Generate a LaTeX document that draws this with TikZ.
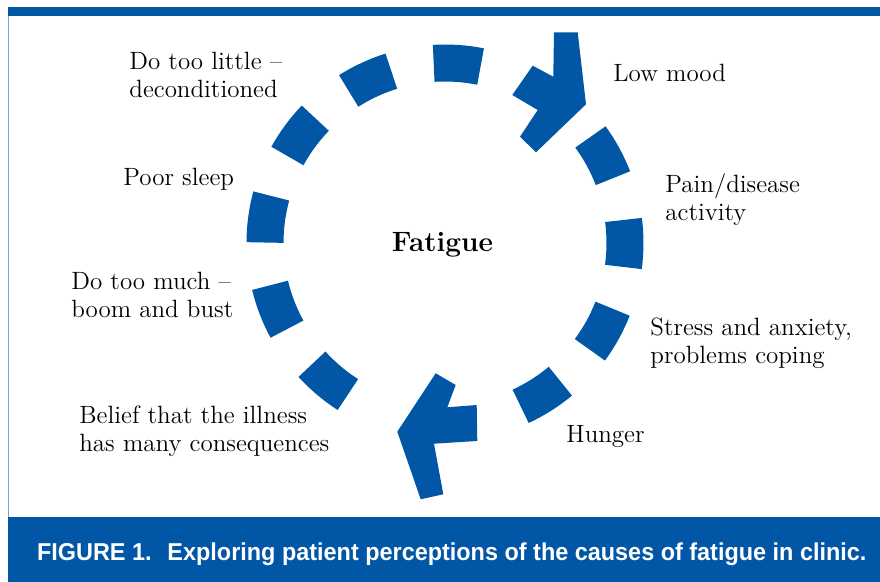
\documentclass[tikz,border=0pt]{standalone}
\usepackage{fontspec}
\usepackage{tikz}
\newfontfamily\capfont[FakeStretch=0.96]{Liberation Sans}
\definecolor{cycleblue}{RGB}{1,86,165}
\definecolor{frameline}{RGB}{122,162,212}
\tikzstyle{cycle}=[x=0.5pt, y=-0.5pt, font=\fontsize{12.5}{14.25}\selectfont]
\tikzstyle{cause}=[inner sep=0pt, align=left, anchor=base west]
\tikzstyle{hub}=[inner sep=0pt, anchor=base, font=\fontsize{14}{16}\selectfont\bfseries]
\tikzstyle{seg}=[draw=cycleblue, line width=18.5pt]
\tikzstyle{head}=[fill=cycleblue]
\tikzstyle{bar}=[fill=cycleblue]
\tikzstyle{caption}=[inner sep=0pt, anchor=base west, text=white, font=\capfont\bfseries\fontsize{12.2}{14}\selectfont]
\newcommand{\ringR}{90pt}
\newcommand{\halfSeg}{7.5}
\begin{document}
\begin{tikzpicture}[cycle]
	\useasboundingbox (0,0) rectangle (880,582);
	
	%The frame and the caption bar
	\fill[bar] (8.3,7.3) rectangle (880,16);
	\draw[frameline, line width=0.6pt] (8.6,16) -- (8.6,517);
	\fill[bar] (8.3,516.7) rectangle (880,582);
	\node[caption] (cap) at (36.7,561) {FIGURE 1.\hspace{0.65em}Exploring patient perceptions of the causes of fatigue in clinic.};
	
	\coordinate (c) at (445,243);
	\node[hub] (fatigue) at (442.5,252) {Fatigue};
	
	%The ring of dashes
	\foreach \k [evaluate=\k as \a using 86.1+28.75*\k] in {-5,-4,-3,-2,0,1,2,3,4,5}
		\draw[seg] ([shift={(\a-\halfSeg:\ringR)}]c) arc[start angle=\a-\halfSeg, end angle=\a+\halfSeg, radius=\ringR];
	
	%The two arrow heads
	\fill[head] (554,32.3) -- (577.7,32.3) -- (586,104.3) -- (536,152.3) -- (520,136.7) -- (537.7,110) -- (512.3,95) -- (532.7,65.7) -- (553.3,76.7) -- cycle;
	\fill[head] (435.7,373.3) -- (455.7,385) -- (447.3,407.3) -- (476.7,405) -- (477.3,441) -- (434,443.7) -- (443.3,494.3) -- (420.7,499.3) -- (397.3,431.7) -- cycle;
	
	%Causes, placed at the baseline of their last line
	\node[cause] (little) at (129,98) {Do too little --\\deconditioned};
	\node[cause] (sleep) at (123,186) {Poor sleep};
	\node[cause] (much) at (71,318) {Do too much --\\boom and bust};
	\node[cause] (belief) at (79,452) {Belief that the illness\\has many consequences};
	\node[cause] (mood) at (613,82) {Low mood};
	\node[cause] (pain) at (665,221) {Pain/disease\\activity};
	\node[cause] (stress) at (650,364) {Stress and anxiety,\\problems coping};
	\node[cause] (hunger) at (566,443) {Hunger};
\end{tikzpicture}
\end{document}
